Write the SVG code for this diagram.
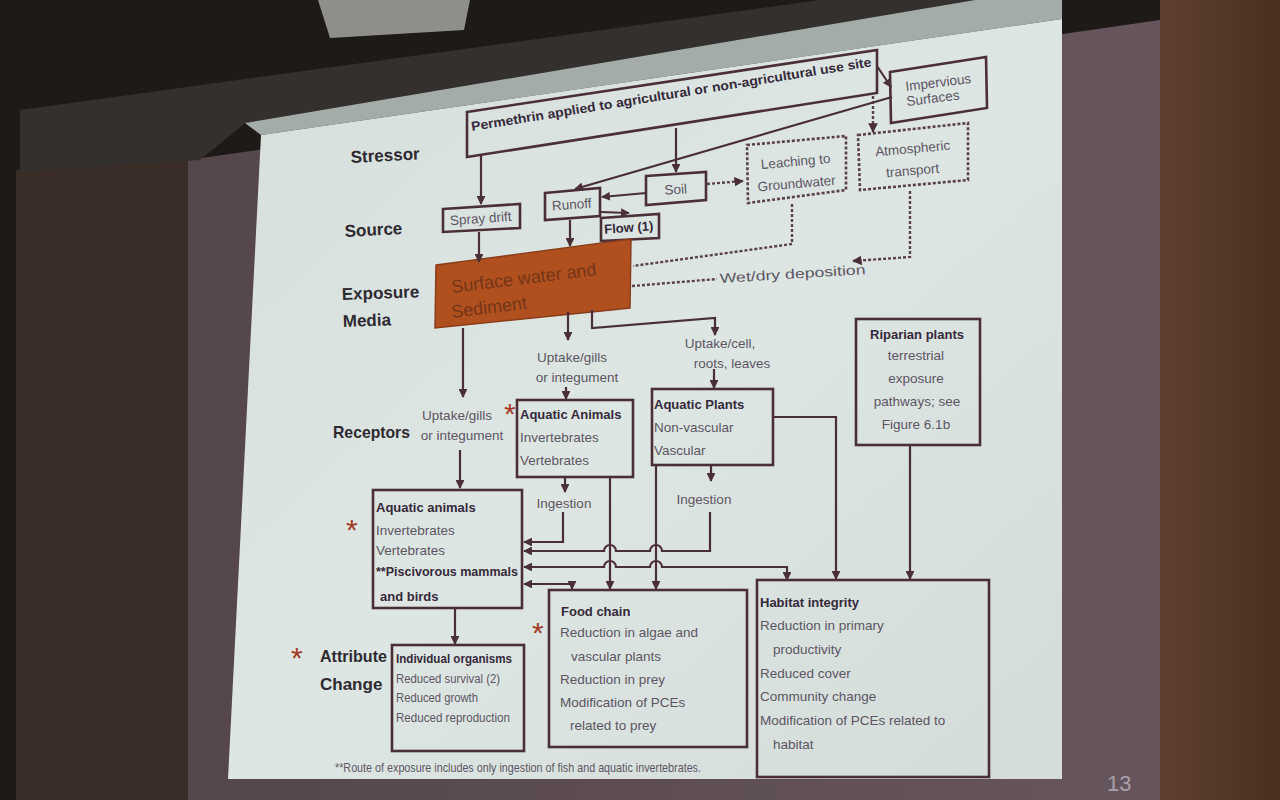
<svg xmlns="http://www.w3.org/2000/svg" width="1280" height="800" viewBox="0 0 1280 800">
<defs>
<style>
.box{fill:none;stroke:#4a2f36;stroke-width:2.6;stroke-linejoin:miter}
.dbox{fill:none;stroke:#5b4048;stroke-width:2.6;stroke-dasharray:3 2}
.ln{fill:none;stroke:#4a2f36;stroke-width:2.2;marker-end:url(#ah)}
.dl{fill:none;stroke:#5b4048;stroke-width:2.4;stroke-dasharray:3 2}
.both{marker-start:url(#ah)}
.L{font-family:"Liberation Sans",Arial,sans-serif;font-weight:bold;font-size:17px;fill:#2e2a30}
.h{font-family:"Liberation Sans",Arial,sans-serif;font-weight:bold;font-size:13px;fill:#35293a}
.t{font-family:"Liberation Sans",Arial,sans-serif;font-size:13.5px;fill:#5d5563}
.st{font-family:"Liberation Sans",Arial,sans-serif;font-size:30px;fill:#a33a26}
</style>
<marker id="ah" viewBox="0 0 10 10" refX="9" refY="5" markerWidth="4" markerHeight="4" orient="auto-start-reverse"><path d="M0,0 L10,5 L0,10 z" fill="#4a2f36"/></marker>
<linearGradient id="slideG" x1="0" y1="0" x2="1" y2="1"><stop offset="0" stop-color="#d6dfdc"/><stop offset="0.5" stop-color="#dde6e3"/><stop offset="1" stop-color="#d3dcd9"/></linearGradient>
<linearGradient id="wallR" x1="0" y1="0" x2="1" y2="0"><stop offset="0" stop-color="#5e4030"/><stop offset="1" stop-color="#4a2f20"/></linearGradient>
<linearGradient id="marg" x1="0" y1="0" x2="1" y2="0"><stop offset="0" stop-color="#54464a"/><stop offset="1" stop-color="#67555e"/></linearGradient>
</defs>

<!-- scene background -->
<rect x="0" y="0" width="1280" height="800" fill="#1e1a18"/>
<rect x="1160" y="0" width="120" height="800" fill="url(#wallR)"/>
<polygon points="16,170 200,160 200,800 16,800" fill="#3a2d27"/>
<polygon points="188,160 1160,20 1160,800 188,800" fill="url(#marg)"/>
<polygon points="318,0 470,0 464,30 330,38" fill="#8e8e8a"/>
<polygon points="20,110 820,0 975,0 245,123 200,160 20,172" fill="#34302e"/>
<polygon points="245,123 975,0 1062,0 1062,19 261,135" fill="#a3aca8"/>
<polygon points="261,135 1062,19 1062,779 228,779" fill="url(#slideG)"/>
<text x="1107" y="791" font-family="Liberation Sans, Arial, sans-serif" font-size="22" fill="#a8a0a8">13</text>

<!-- row labels -->
<g id="row-labels">
<text class="L" x="351" y="163" transform="rotate(-3 351 163)">Stressor</text>
<text class="L" x="345" y="237" transform="rotate(-3 345 237)">Source</text>
<text class="L" x="342" y="300" transform="rotate(-2 342 300)">Exposure</text>
<text class="L" x="343" y="327" transform="rotate(-2 343 327)">Media</text>
<text class="L" x="333" y="438" textLength="77" lengthAdjust="spacingAndGlyphs">Receptors</text>
<text class="L" x="320" y="662" font-size="18" textLength="67" lengthAdjust="spacingAndGlyphs">Attribute</text>
<text class="L" x="320" y="690" font-size="18">Change</text>
</g>

<!-- stars -->
<g id="stars">
<text class="st" x="291" y="668">*</text>
<text class="st" x="346" y="540">*</text>
<text class="st" x="504" y="424">*</text>
<text class="st" x="532" y="643">*</text>
</g>

<!-- nodes -->
<g id="permethrin">
<polygon class="box" points="467,112 877,50 877,93 467,157"/>
<text class="h" x="472" y="131" font-size="14" textLength="405" lengthAdjust="spacingAndGlyphs" transform="rotate(-9.2 472 131)">Permethrin applied to agricultural or non-agricultural use site</text>
</g>
<g id="impervious">
<polygon class="box" points="890,72 986,57 987,108 891,123"/>
<text class="t" font-size="11" fill="#6a6070" x="906" y="91" transform="rotate(-7 906 91)">Impervious</text>
<text class="t" font-size="11" fill="#6a6070" x="907" y="106" transform="rotate(-7 907 106)">Surfaces</text>
</g>
<g id="spray-drift">
<polygon class="box" points="443,209 520,204 520,228 443,232"/>
<text class="t" font-size="12" x="481" y="223" text-anchor="middle" transform="rotate(-4 481 223)">Spray drift</text>
</g>
<g id="runoff">
<polygon class="box" points="545,193 600,188 600,216 545,220"/>
<text class="t" font-size="13" x="572" y="209" text-anchor="middle" transform="rotate(-4 572 209)">Runoff</text>
</g>
<g id="soil">
<polygon class="box" points="646,176 706,172 706,200 646,205"/>
<text class="t" font-size="13" x="676" y="194" text-anchor="middle" transform="rotate(-4 676 194)">Soil</text>
</g>
<g id="flow">
<polygon class="box" points="601,218 659,214 659,238 601,241"/>
<text class="h" font-size="7.5" x="629" y="232" text-anchor="middle" transform="rotate(-4 629 232)">Flow (1)</text>
</g>
<g id="leaching">
<polygon class="dbox" points="747,145 846,136 846,190 748,203"/>
<text class="t" font-size="14.5" x="796" y="166" text-anchor="middle" transform="rotate(-5 796 166)">Leaching to</text>
<text class="t" font-size="14.5" x="797" y="188" text-anchor="middle" transform="rotate(-5 797 188)">Groundwater</text>
</g>
<g id="atmospheric">
<polygon class="dbox" points="858,135 968,123 968,180 860,190"/>
<text class="t" font-size="14.5" x="913" y="153" text-anchor="middle" transform="rotate(-5 913 153)">Atmospheric</text>
<text class="t" font-size="14.5" x="913" y="175" text-anchor="middle" transform="rotate(-5 913 175)">transport</text>
</g>
<g id="surface-water">
<polygon points="436,265 631,239 630,308 435,328" fill="#b0501e" stroke="#8a3d1a" stroke-width="1.5"/>
<text x="452" y="293" font-family="Liberation Sans, Arial, sans-serif" font-size="18" fill="#733619" transform="rotate(-7 452 293)">Surface water and</text>
<text x="452" y="318" font-family="Liberation Sans, Arial, sans-serif" font-size="18" fill="#733619" transform="rotate(-7 452 318)">Sediment</text>
</g>
<g id="labels-pathways">
<text class="t" x="720" y="283" font-size="17" fill="#3c3540" textLength="146" lengthAdjust="spacingAndGlyphs" transform="rotate(-3.5 720 283)">Wet/dry deposition</text>
<text class="t" x="457" y="420" font-size="13" text-anchor="middle">Uptake/gills</text>
<text class="t" x="462" y="440" font-size="13" text-anchor="middle">or integument</text>
<text class="t" x="572" y="362" font-size="13" text-anchor="middle">Uptake/gills</text>
<text class="t" x="577" y="382" font-size="13" text-anchor="middle">or integument</text>
<text class="t" x="720" y="348" font-size="13" text-anchor="middle">Uptake/cell,</text>
<text class="t" x="732" y="368" font-size="13" text-anchor="middle">roots, leaves</text>
<text class="t" x="564" y="508" font-size="13" text-anchor="middle">Ingestion</text>
<text class="t" x="704" y="504" font-size="13" text-anchor="middle">Ingestion</text>
</g>
<g id="aquatic-animals-receptor">
<rect class="box" x="517" y="400" width="116" height="77"/>
<text class="h" x="520" y="419" font-size="13.5">Aquatic Animals</text>
<text class="t" x="520" y="442">Invertebrates</text>
<text class="t" x="520" y="465">Vertebrates</text>
</g>
<g id="aquatic-plants">
<rect class="box" x="652" y="389" width="121" height="76"/>
<text class="h" x="654" y="409" font-size="13.5">Aquatic Plants</text>
<text class="t" x="654" y="432">Non-vascular</text>
<text class="t" x="654" y="455">Vascular</text>
</g>
<g id="riparian">
<rect class="box" x="856" y="319" width="124" height="126"/>
<text class="h" x="917" y="339" font-size="13.5" text-anchor="middle">Riparian plants</text>
<text class="t" x="916" y="360" text-anchor="middle">terrestrial</text>
<text class="t" x="916" y="383" text-anchor="middle">exposure</text>
<text class="t" x="917" y="406" text-anchor="middle">pathways; see</text>
<text class="t" x="916" y="429" text-anchor="middle">Figure 6.1b</text>
</g>
<g id="aquatic-animals-attr">
<rect class="box" x="373" y="490" width="149" height="118"/>
<text class="h" x="376" y="512" font-size="13">Aquatic animals</text>
<text class="t" x="376" y="535" font-size="13">Invertebrates</text>
<text class="t" x="376" y="555" font-size="13">Vertebrates</text>
<text class="h" x="376" y="576" font-size="13" textLength="142" lengthAdjust="spacingAndGlyphs">**Piscivorous mammals</text>
<text class="h" x="380" y="601" font-size="16.5">and birds</text>
</g>
<g id="individual-organisms">
<rect class="box" x="392" y="645" width="132" height="106"/>
<text class="h" x="396" y="663" font-size="11.5" textLength="116" lengthAdjust="spacingAndGlyphs">Individual organisms</text>
<text class="t" x="396" y="683" font-size="11.5" textLength="104" lengthAdjust="spacingAndGlyphs">Reduced survival (2)</text>
<text class="t" x="396" y="702" font-size="11.5" textLength="82" lengthAdjust="spacingAndGlyphs">Reduced growth</text>
<text class="t" x="396" y="722" font-size="11.5" textLength="114" lengthAdjust="spacingAndGlyphs">Reduced reproduction</text>
</g>
<g id="food-chain">
<rect class="box" x="549" y="590" width="198" height="157"/>
<text class="h" x="561" y="616" font-size="14">Food chain</text>
<text class="t" x="560" y="637" font-size="14">Reduction in algae and</text>
<text class="t" x="571" y="661" font-size="14">vascular plants</text>
<text class="t" x="560" y="684" font-size="14">Reduction in prey</text>
<text class="t" x="560" y="707" font-size="14">Modification of PCEs</text>
<text class="t" x="570" y="730" font-size="14">related to prey</text>
</g>
<g id="habitat-integrity">
<rect class="box" x="757" y="580" width="232" height="197"/>
<text class="h" x="760" y="607" font-size="15">Habitat integrity</text>
<text class="t" x="760" y="630" font-size="15">Reduction in primary</text>
<text class="t" x="773" y="654" font-size="15">productivity</text>
<text class="t" x="760" y="678" font-size="15">Reduced cover</text>
<text class="t" x="760" y="701" font-size="15">Community change</text>
<text class="t" x="760" y="725" font-size="15">Modification of PCEs related to</text>
<text class="t" x="773" y="749" font-size="15">habitat</text>
</g>
<g id="footnote">
<text class="t" x="335" y="772" font-size="9.5" fill="#3e3744" textLength="366" lengthAdjust="spacingAndGlyphs">**Route of exposure includes only ingestion of fish and aquatic invertebrates.</text>
</g>

<!-- connectors -->
<g id="connectors">
<path class="ln" d="M481,156 V204"/>
<path class="ln" d="M676,128 V172"/>
<path class="ln" d="M877,66 L891,87"/>
<path class="ln" d="M892,97 L575,189"/>
<path class="ln" d="M646,193 L602,197"/>
<path class="dl" d="M707,184 L743,181" marker-end="url(#ah)"/>
<path class="ln" d="M601,212 L629,213"/>
<path class="ln" d="M479,232 V262"/>
<path class="ln" d="M570,220 V246"/>
<path class="dl" d="M873,96 V132" marker-end="url(#ah)"/>
<path class="dl" d="M792,204 V244 L633,266"/>
<path class="dl" d="M910,191 V257 L853,261" marker-end="url(#ah)"/>
<path class="dl" d="M632,286 L717,279"/>
<path class="ln" d="M463,328 V397"/>
<path class="ln" d="M460,450 V488"/>
<path class="ln" d="M568,312 V340"/>
<path class="ln" d="M566,387 V399"/>
<path class="ln" d="M592,310 V328 L715,318 V335"/>
<path class="ln" d="M714,369 V388"/>
<path class="ln" d="M565,478 V492"/>
<path class="ln" d="M563,512 V542 H524"/>
<path class="ln" d="M711,465 V481"/>
<path class="ln" d="M710,512 V551 H662 A6,6 0 0 0 650,551 H616 A6,6 0 0 0 604,551 H524"/>
<path class="ln both" d="M787,580 V567 H662 A6,6 0 0 0 650,567 H616 A6,6 0 0 0 604,567 H524"/>
<path class="ln both" d="M524,584 H572 V589"/>
<path class="ln" d="M610,478 V589"/>
<path class="ln" d="M656,465 V589"/>
<path class="ln" d="M773,417 H836 V579"/>
<path class="ln" d="M910,445 V579"/>
<path class="ln" d="M455,609 V644"/>
</g>
</svg>
